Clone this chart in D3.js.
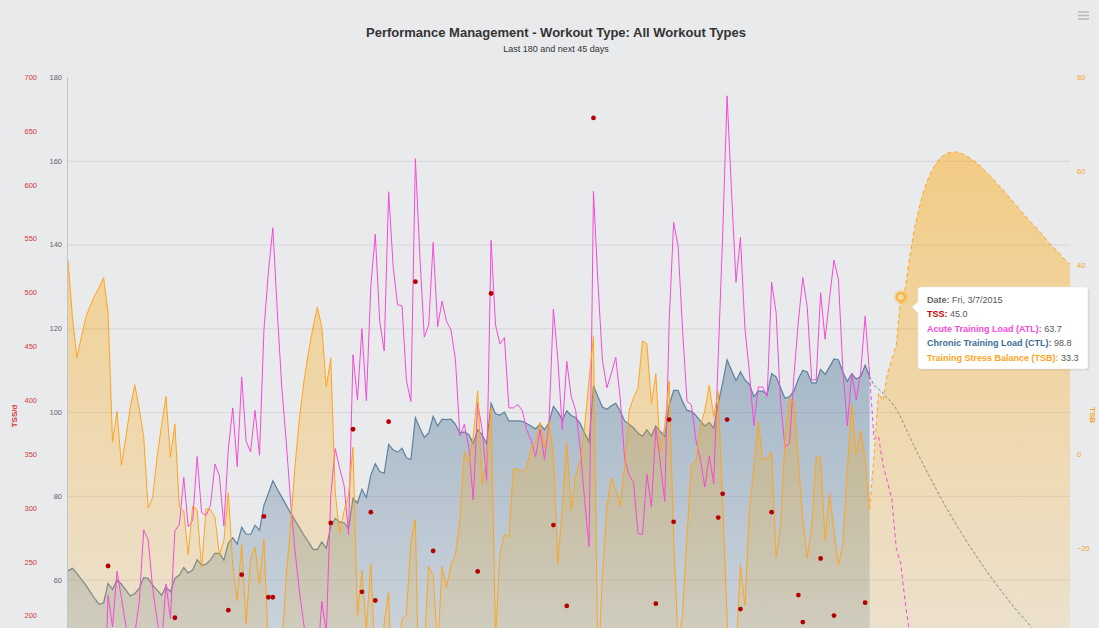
<!DOCTYPE html>
<html>
<head>
<meta charset="utf-8">
<script src="https://cdn.jsdelivr.net/npm/d3@7"></script>
<style>
  body { margin: 0; background: #e9eaec; }
  svg { display: block; font-family: "Liberation Sans", Arial, Helvetica, sans-serif; }
</style>
</head>
<body>
<div id="chart"></div>
<script>
// day index 0..225, last 180 days done, next 45 planned
const pastDays = 180
const futureDays = 45

const ctl = [
  62.1, 62.7, 61.5, 60.1, 58.7, 57.1, 55.5, 54.1, 54.5, 59.1,
  57.7, 59.9, 58.9, 57.5, 56.1, 56.7, 57.9, 60.5, 60.3, 58.7,
  57.5, 56.3, 58.3, 57.1, 60.3, 61.1, 62.9, 61.6, 62.3, 64.8,
  63.5, 63.7, 64.7, 66.3, 66.3, 64.7, 68.7, 70, 68.5, 72.5,
  70.9, 70.8, 73, 71.8, 77.8, 80.6, 83.6, 81.6, 79.7, 77.8,
  75.9, 74.1, 72.4, 70.6, 69, 67.3, 67.2, 69, 67.5, 72.8,
  74.6, 73.8, 73.6, 72.2, 79.4, 78.3, 81.6, 79.6, 85, 87.7,
  85.8, 85.4, 92.3, 91, 90.4, 91.4, 89.1, 88.7, 98.7, 96.2,
  94, 95, 99, 96.7, 98.3, 98.2, 98.3, 97.1, 95, 95.3,
  94.6, 92.5, 95.8, 94.6, 92.5, 102.1, 99.6, 99.3, 100, 97.9,
  97.9, 97.9, 97.8, 97.3, 96.7, 96, 97.1, 95.8, 97.5, 101.4,
  100, 98.2, 100.3, 99.2, 98.7, 97.3, 95, 92.9, 106.3, 103.7,
  101.2, 100.7, 101.5, 102.1, 100.2, 97.9, 97.1, 96.2, 95, 94.2,
  95.8, 94.3, 96.7, 95.4, 94.2, 101.7, 105.2, 105.2, 102.5, 100.4,
  100.2, 99.2, 97.9, 96.7, 97.5, 96.2, 102, 107, 112.5, 110,
  107.5, 109.6, 107.7, 106.7, 103.7, 105, 105, 104.2, 109.2, 108.4,
  105.8, 103.3, 103.7, 105, 107.9, 110, 109.6, 107, 107, 110.2,
  109, 110.8, 112.7, 112.5, 109.6, 107.3, 109.2, 107.9, 108.5, 111.2,
  108.5, 106.4, 105.5, 104.5, 103.3, 102.2, 100.7, 98.8, 96.4, 94.2,
  91.9, 89.7, 87.6, 85.5, 83.5, 81.5, 79.5, 77.6, 75.8, 74,
  72.2, 70.5, 68.8, 67.2, 65.6, 64, 62.5, 61, 59.5, 58.1,
  56.7, 55.4, 54, 52.7, 51.5, 50.3, 49.1, 47.9, 46.8, 45.6,
  44.5, 43.5, 42.4, 41.4, 40.4, 39.5
]

const atl = [
  33.1, 42.2, 36.7, 31.1, 27.2, 23.5, 20.1, 16.7, 24.5, 56.3,
  48.7, 62, 55.6, 49, 41.4, 47.1, 54.7, 71.9, 69.5, 58,
  50.5, 44.1, 59, 50.7, 71.7, 73.1, 84.4, 72.6, 74.2, 89.4,
  76, 75.3, 77.8, 87.6, 84.8, 72.8, 91.2, 101, 87, 108.4,
  93, 90.5, 100.4, 89.7, 119.6, 133.5, 144, 124, 106, 93,
  78.5, 66.6, 57, 49, 42, 36, 40.3, 54.8, 47.1, 80,
  91.3, 86.6, 82.5, 70.8, 113.7, 102.9, 119.9, 102.7, 130, 142.5,
  121.7, 114.6, 152.6, 135, 125.6, 125.4, 107.5, 102.5, 160.5, 137.5,
  117.9, 120.8, 140.5, 120.4, 126.5, 121.7, 119.6, 112.5, 94.3, 97.1,
  91.6, 79.1, 102.1, 95.8, 83.7, 141, 120.8, 116.3, 117.8, 101,
  101, 101.8, 100.4, 95.8, 93.3, 89.3, 95.8, 88.7, 97.5, 124.6,
  112.5, 95.8, 112.1, 103.7, 100.4, 91.6, 79.1, 67.9, 152.7, 130.9,
  112.5, 105.8, 109.2, 113.1, 103.3, 88.7, 85, 83.1, 71, 70.8,
  85.2, 77.3, 96.2, 87.9, 78.7, 121.8, 145.3, 139.6, 119.7, 102.6,
  101.7, 93.3, 88.7, 82.1, 89.6, 82.9, 113, 142, 175.5, 152.5,
  131, 141.7, 120, 109.6, 96.8, 106, 106, 103.7, 131, 123.8,
  102.5, 91.6, 92.5, 108.4, 121.7, 132.1, 125, 107.7, 107.7, 128.5,
  117.4, 127.1, 136.3, 131.7, 110, 96.7, 109.2, 102.9, 109.6, 122.9,
  108.8, 93.5, 94.2, 87.5, 83.3, 79.1, 67.4, 63.7, 54.6, 46.8,
  40.1, 34.4, 29.5, 25.3, 21.7, 18.6, 15.9, 13.6, 11.7, 10,
  8.6, 7.4, 6.3, 5.4, 4.6, 4, 3.4, 2.9, 2.5, 2.1,
  1.8, 1.6, 1.3, 1.2, 1, 0.9, 0.7, 0.6, 0.5, 0.5,
  0.4, 0.3, 0.3, 0.3, 0.2, 0.2
]

const tsb = [
  41.1, 29, 20.5, 24.8, 29, 31.5, 33.6, 35.4, 37.4, 30,
  2.5, 9, -2.4, 3.6, 10, 14.7, 9.6, 3.6, -11.5, -9.2,
  -0.7, 6, 12.2, -0.7, 6.4, -11.3, -12.1, -21.4, -11, -11.8,
  -24.4, -11.6, -11.8, -13.4, -21.5, -18.4, -8.2, -23.7, -31.1, -19,
  -36, -22.2, -19.8, -27.5, -18, -41.8, -52.9, -60.4, -42.2, -26.2,
  -15, -2.3, 7.8, 15.5, 21.6, 26.8, 31.2, 26.9, 14.2, 20.4,
  -8, -16.8, -12, -8.7, 1.4, -34.4, -24.7, -37.4, -23.3, -45,
  -54.8, -35.9, -29.3, -60.3, -44, -35.1, -34.1, -18.5, -13.8, -61.8,
  -41.3, -23.9, -25.8, -41.5, -23.9, -28.3, -23.5, -21.4, -14, 0.5,
  -1.9, 3.7, 13.4, -6.3, -0.6, 9.8, -38.9, -21.2, -17.1, -17.6,
  -3.2, -3.2, -3.9, -2.8, 1.3, 2.7, 6.7, 1.3, 6.8, 0,
  -23.2, -11.5, 2.4, -11.9, -4.5, -1.7, 5.7, 15.6, 25, -46.4,
  -26, -11.3, -5.1, -7.7, -11, -2.5, 9.2, 12, 14, 24,
  23.4, 10.6, 17, 0.5, 6, 15.5, -18, -40.1, -34.4, -17.2,
  -2.2, -1.5, 5.9, 9.2, 14.6, 7.9, 13.3, -10.5, -35, -63,
  -42.5, -23.5, -32.1, -12.3, -2.9, 6.9, -1, -1, 0.5, -21.8,
  -15.4, 3.3, 11.7, 11.2, -1.5, -13.8, -22.1, -15.4, -0.7, -0.7,
  -18.3, -8.4, -16.3, -23.6, -19.2, -3, 10.6, 0, 5, -1.1,
  -11.7, -0.3, 12.9, 11.3, 17, 20.2, 23.1, 33.3, 35.1, 41.8,
  47.4, 51.8, 55.3, 58.1, 60.2, 61.8, 62.9, 63.6, 64, 64.1,
  64, 63.6, 63.1, 62.5, 61.8, 61, 60, 59.1, 58.1, 57,
  56, 54.9, 53.8, 52.7, 51.5, 50.5, 49.4, 48.4, 47.3, 46.3,
  45.1, 44.1, 43.2, 42.1, 41.1, 40.2
]

// workouts (TSS) - only the ones that show above the cut
const tssDays   = [9, 24, 36, 39, 44, 45, 46, 59, 64, 66, 68, 69, 72, 78, 82, 92, 95, 109, 112, 118, 132, 135, 136, 146, 147, 148, 151, 158, 164, 165, 169, 172, 179, 187]
const tssValues = [246, 198, 205, 238, 292, 217, 217, 286, 373, 222, 296, 214, 380, 510, 260, 241, 499, 284, 209, 662, 211, 382, 287, 291, 313, 382, 206, 296, 219, 194, 253, 200, 212, 45]

// tick labels that fall inside the visible part of the chart
const loadTicks = [60, 80, 100, 120, 140, 160, 180]
const tssTicks = [200, 250, 300, 350, 400, 450, 500, 550, 600, 650, 700]
const tsbTicks = [-20, 0, 20, 40, 60, 80]

const hoverDay = 187
const tipLabels = ['Date:', 'TSS:', 'Acute Training Load (ATL):', 'Chronic Training Load (CTL):', 'Training Stress Balance (TSB):']
const tipValues = ['Fri, 3/7/2015', '45.0', '63.7', '98.8', '33.3']

const colors = {
  tss: '#b50000',
  tssAxis: '#d23b3b',
  atl: '#f54ad8',
  ctl: '#4a7394',
  tsb: '#ffa41c',
  tsbAxis: '#f5a623'
}

const width = 1099, height = 628
const plot = { left: 67, right: 1070, top: 77, bottom: 831 }

const svg = d3.select('#chart').append('svg')
  .attr('width', width)
  .attr('height', height)

svg.append('rect').attr('width', width).attr('height', height).attr('fill', '#e9eaec')

const defs = svg.append('defs')
const gradient = (id, color, y1, o1, y2, o2) => {
  const g = defs.append('linearGradient')
    .attr('id', id)
    .attr('gradientUnits', 'userSpaceOnUse')
    .attr('x1', 0).attr('x2', 0).attr('y1', y1).attr('y2', y2)
  g.append('stop').attr('offset', 0).attr('stop-color', color).attr('stop-opacity', o1)
  g.append('stop').attr('offset', 1).attr('stop-color', color).attr('stop-opacity', o2)
}
gradient('tsbFill', '#ffa500', 150, 0.44, plot.bottom, 0)
gradient('ctlFill', colors.ctl, 360, 0.42, plot.bottom, 0.04)

defs.append('clipPath').attr('id', 'plotClip')
  .append('rect')
  .attr('x', plot.left).attr('y', plot.top - 10)
  .attr('width', plot.right - plot.left).attr('height', plot.bottom - plot.top + 10)

// scales
const x = d3.scaleLinear().domain([0, pastDays + futureDays]).range([68, plot.right])
const yLoad = d3.scaleLinear().domain([0, 180]).range([plot.bottom, plot.top])
const yTss = d3.scaleLinear().domain([0, 700]).range([plot.bottom, plot.top])
const yTsb = d3.scaleLinear().domain([-80, 80]).range([plot.bottom, plot.top])

const pastIdx = d3.range(0, pastDays + 1)
const futureIdx = d3.range(pastDays, pastDays + futureDays + 1)
const allIdx = d3.range(0, pastDays + futureDays + 1)

// grid lines from the load axis
svg.append('g')
  .attr('transform', `translate(${plot.left}, 0)`)
  .call(d3.axisLeft(yLoad).tickValues(loadTicks.filter(d => d < 180)).tickSize(-(plot.right - plot.left)).tickFormat(''))
  .call(g => g.select('.domain').remove())
  .selectAll('line')
  .attr('stroke', '#d5d6d9')

const chart = svg.append('g').attr('clip-path', 'url(#plotClip)')

const line = (arr, y) => d3.line().x(i => x(i)).y(i => y(arr[i]))

// CTL area (past only)
chart.append('path')
  .datum(pastIdx)
  .attr('fill', 'url(#ctlFill)')
  .attr('d', d3.area().x(i => x(i)).y0(plot.bottom).y1(i => yLoad(ctl[i])))

chart.append('path')
  .datum(pastIdx)
  .attr('fill', 'none')
  .attr('stroke', colors.ctl)
  .attr('stroke-opacity', 0.85)
  .attr('stroke-width', 1.2)
  .attr('d', line(ctl, yLoad))

chart.append('path')
  .datum(futureIdx)
  .attr('fill', 'none')
  .attr('stroke', '#6f8598')
  .attr('stroke-width', 1)
  .attr('stroke-dasharray', '3,2')
  .attr('d', line(ctl, yLoad))

// TSB area on top, semi transparent
chart.append('path')
  .datum(allIdx)
  .attr('fill', 'url(#tsbFill)')
  .attr('d', d3.area().x(i => x(i)).y0(plot.bottom).y1(i => yTsb(tsb[i])))

// ATL
chart.append('path')
  .datum(pastIdx)
  .attr('fill', 'none')
  .attr('stroke', colors.atl)
  .attr('stroke-width', 1)
  .attr('d', line(atl, yLoad))

chart.append('path')
  .datum(futureIdx)
  .attr('fill', 'none')
  .attr('stroke', colors.atl)
  .attr('stroke-width', 1)
  .attr('stroke-dasharray', '4,3')
  .attr('d', line(atl, yLoad))

// TSB
chart.append('path')
  .datum(pastIdx)
  .attr('fill', 'none')
  .attr('stroke', colors.tsb)
  .attr('stroke-width', 1)
  .attr('d', line(tsb, yTsb))

chart.append('path')
  .datum(futureIdx)
  .attr('fill', 'none')
  .attr('stroke', colors.tsb)
  .attr('stroke-width', 1)
  .attr('stroke-dasharray', '4,3')
  .attr('d', line(tsb, yTsb))

// TSS dots
chart.selectAll('.tss')
  .data(tssDays)
  .enter()
  .append('circle')
    .attr('class', 'tss')
    .attr('cx', d => x(d))
    .attr('cy', (d, i) => yTss(tssValues[i]))
    .attr('r', 2.4)
    .attr('fill', colors.tss)

// axes
const styleAxis = (g, color) => {
  g.select('.domain').remove()
  g.selectAll('text').attr('fill', color).style('font-size', '7.5px')
}

svg.append('g')
  .attr('transform', `translate(${plot.left}, 0)`)
  .call(d3.axisLeft(yLoad).tickValues(loadTicks).tickSize(0).tickPadding(5).tickSizeOuter(0))
  .call(g => g.select('.domain').attr('stroke', '#c3c4c7'))
  .call(g => g.selectAll('text').attr('fill', '#666').style('font-size', '7.5px'))

svg.append('g')
  .attr('transform', 'translate(40, 0)')
  .call(d3.axisLeft(yTss).tickValues(tssTicks).tickSize(0).tickPadding(3))
  .call(g => styleAxis(g, colors.tssAxis))

svg.append('g')
  .attr('transform', `translate(${plot.right}, 0)`)
  .call(d3.axisRight(yTsb).tickValues(tsbTicks).tickSize(0).tickPadding(7))
  .call(g => styleAxis(g, colors.tsbAxis))

svg.append('text')
  .attr('transform', 'translate(17, 416) rotate(-90)')
  .attr('text-anchor', 'middle')
  .attr('fill', colors.tssAxis)
  .style('font-size', '8px')
  .style('font-weight', 'bold')
  .text('TSS/d')

svg.append('text')
  .attr('transform', 'translate(1090, 415) rotate(90)')
  .attr('text-anchor', 'middle')
  .attr('fill', colors.tsbAxis)
  .style('font-size', '8px')
  .style('font-weight', 'bold')
  .text('TSB')

// title
svg.append('text')
  .attr('x', 556).attr('y', 37)
  .attr('text-anchor', 'middle')
  .attr('fill', '#333')
  .style('font-size', '13px')
  .style('font-weight', 'bold')
  .text('Performance Management - Workout Type: All Workout Types')

svg.append('text')
  .attr('x', 556).attr('y', 52)
  .attr('text-anchor', 'middle')
  .attr('fill', '#333')
  .style('font-size', '9px')
  .text('Last 180 and next 45 days')

// menu icon
svg.append('g')
  .selectAll('line')
  .data([12, 15.5, 19])
  .enter()
  .append('line')
    .attr('x1', 1078).attr('x2', 1089)
    .attr('y1', d => d).attr('y2', d => d)
    .attr('stroke', '#b8b9bc')
    .attr('stroke-width', 1.5)

// hover marker
const hx = x(hoverDay), hy = yTsb(tsb[hoverDay])
svg.append('circle').attr('cx', hx).attr('cy', hy).attr('r', 7).attr('fill', '#ffa500').attr('fill-opacity', 0.25)
svg.append('circle').attr('cx', hx).attr('cy', hy).attr('r', 4).attr('fill', '#f7dca6').attr('stroke', '#f8b13a').attr('stroke-width', 2)

// tooltip
const tip = svg.append('g').attr('transform', 'translate(918, 287)')
const tipW = 170, tipH = 82
const tipPath = `M3,0 H${tipW - 3} Q${tipW},0 ${tipW},3 V${tipH - 3} Q${tipW},${tipH} ${tipW - 3},${tipH} H3 Q0,${tipH} 0,${tipH - 3} V26 L-6,20 L0,15 V3 Q0,0 3,0 Z`
tip.append('path').attr('d', tipPath).attr('transform', 'translate(1.5, 1.5)').attr('fill', '#000').attr('fill-opacity', 0.08)
tip.append('path').attr('d', tipPath).attr('fill', '#fff').attr('stroke', '#e2e2e2').attr('stroke-width', 0.5)

const tipColors = ['#666', '#c40000', colors.atl, '#3c6c93', colors.tsb]
tipLabels.forEach((label, i) => {
  const t = tip.append('text')
    .attr('x', 9)
    .attr('y', 16 + i * 14.4)
    .style('font-size', '9px')
  t.append('tspan').attr('fill', tipColors[i]).style('font-weight', 'bold').text(label + ' ')
  t.append('tspan').attr('fill', '#555').text(tipValues[i])
})
</script>
</body>
</html>
